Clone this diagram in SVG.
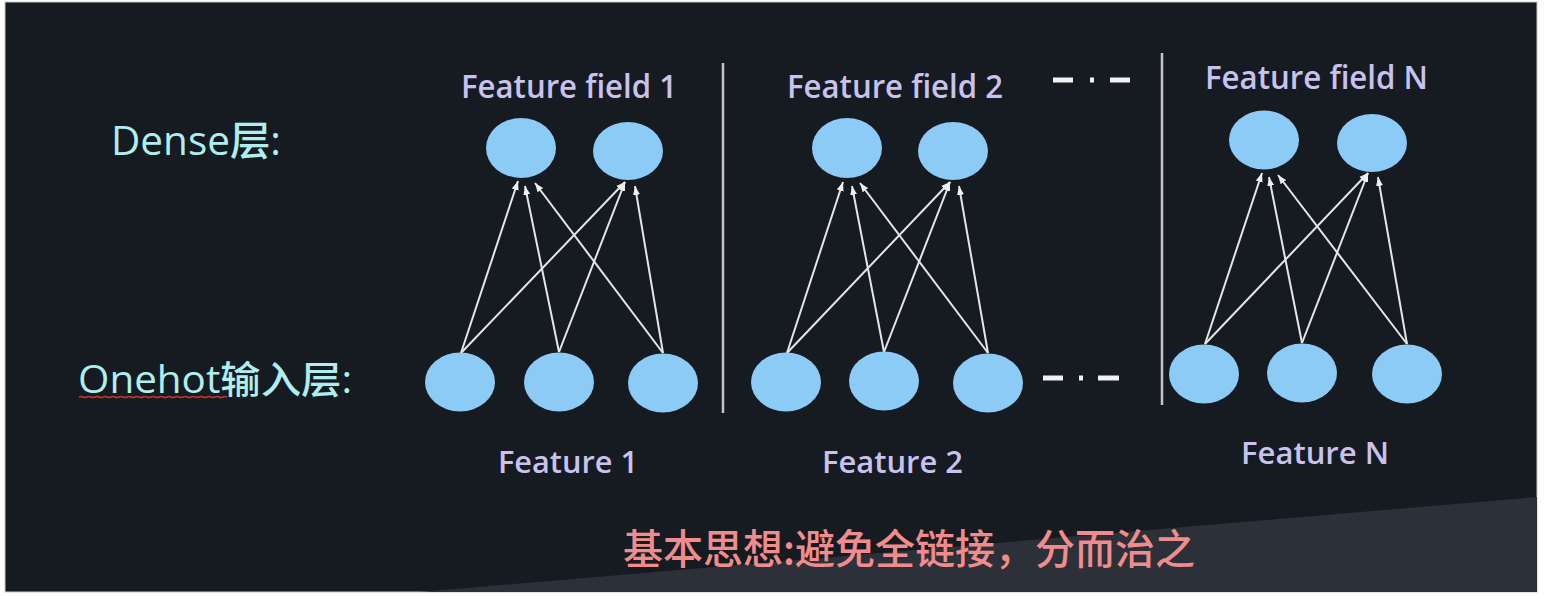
<svg xmlns="http://www.w3.org/2000/svg" width="1544" height="596" viewBox="0 0 1544 596">
<style>
.node{fill:#8ccbf6}
.edge{stroke:#e6e6e6;stroke-width:2;fill:none;marker-end:url(#ah)}
.sep{stroke:#c4c4c4;stroke-width:2.5}
.dash{stroke:#f2f2f2;stroke-width:5}
.ff{font-family:'Open Sans','Liberation Sans',sans-serif;fill:#c8c2ee;font-size:33px;font-weight:600}
.fl{font-family:'Open Sans','Liberation Sans',sans-serif;fill:#c8c2ee;font-size:31px;font-weight:600}
.lay{font-family:'Open Sans','Noto Sans CJK SC',sans-serif;fill:#aeeeee;font-weight:500}
.cn{font-family:'Noto Sans CJK SC',sans-serif;fill:#f08c8c;font-size:41px;font-weight:500}
</style>
<defs>
<marker id="ah" markerUnits="userSpaceOnUse" markerWidth="10" markerHeight="8" refX="9" refY="4" orient="auto">
<path d="M0,0.5 L9,4 L0,7.5 z" fill="#f0f0f0"/>
</marker>
</defs>
<rect x="0" y="0" width="1544" height="596" fill="#ffffff"/>
<rect x="5" y="2" width="1532" height="590" fill="#161a21" stroke="#c8c8c8" stroke-width="1"/>
<polygon points="420,592 1537,497 1537,592" fill="#2b3039"/>

<g id="labels">
<text class="lay" x="111" y="155" font-size="40" textLength="170" lengthAdjust="spacingAndGlyphs">Dense层:</text>
<text class="lay" x="78" y="393" font-size="38" textLength="274" lengthAdjust="spacingAndGlyphs">Onehot输入层:</text>
<path d="M79,397 q2,-1 4,0 t4,0 t4,0 t4,0 t4,0 t4,0 t4,0 t4,0 t4,0 t4,0 t4,0 t4,0 t4,0 t4,0 t4,0 t4,0 t4,0 t4,0 t4,0 t4,0 t4,0 t4,0 t4,0 t4,0 t4,0 t4,0 t4,0 t4,0 t4,0 t4,0 t4,0 t4,0 t4,0 t4,0 t4,0 t4,0 t4,0" fill="none" stroke="#c0392b" stroke-width="1.5"/>
<text class="ff" x="461" y="98" textLength="216" lengthAdjust="spacingAndGlyphs">Feature field 1</text>
<text class="ff" x="787" y="98" textLength="216" lengthAdjust="spacingAndGlyphs">Feature field 2</text>
<text class="ff" x="1205" y="89" textLength="223" lengthAdjust="spacingAndGlyphs">Feature field N</text>
<text class="fl" x="498" y="473" textLength="140" lengthAdjust="spacingAndGlyphs">Feature 1</text>
<text class="fl" x="822" y="473" textLength="141" lengthAdjust="spacingAndGlyphs">Feature 2</text>
<text class="fl" x="1241" y="464" textLength="148" lengthAdjust="spacingAndGlyphs">Feature N</text>
<text class="cn" x="623" y="564" textLength="572" lengthAdjust="spacingAndGlyphs">基本思想:避免全链接，分而治之</text>
</g>

<g id="separators">
<line class="sep" x1="723" y1="63" x2="723" y2="413"/>
<line class="sep" x1="1162" y1="53" x2="1162" y2="405"/>
<line class="dash" x1="1053" y1="80" x2="1073" y2="80"/>
<line class="dash" x1="1090" y1="80" x2="1094" y2="80"/>
<line class="dash" x1="1110" y1="80" x2="1130" y2="80"/>
<line class="dash" x1="1043" y1="378" x2="1063" y2="378"/>
<line class="dash" x1="1079" y1="378" x2="1083" y2="378"/>
<line class="dash" x1="1098" y1="378" x2="1119" y2="378"/>
</g>

<g id="connectors">
<line class="edge" x1="461" y1="353" x2="518" y2="181"/>
<line class="edge" x1="461" y1="353" x2="625" y2="182"/>
<line class="edge" x1="559" y1="352" x2="525" y2="186"/>
<line class="edge" x1="559" y1="352" x2="625" y2="182"/>
<line class="edge" x1="663" y1="353" x2="535" y2="183"/>
<line class="edge" x1="663" y1="353" x2="635" y2="186"/>

<line class="edge" x1="787" y1="353" x2="843" y2="182"/>
<line class="edge" x1="787" y1="353" x2="950" y2="182"/>
<line class="edge" x1="884" y1="352" x2="852" y2="186"/>
<line class="edge" x1="884" y1="352" x2="950" y2="182"/>
<line class="edge" x1="988" y1="353" x2="860" y2="183"/>
<line class="edge" x1="988" y1="353" x2="959" y2="186"/>

<line class="edge" x1="1205" y1="344" x2="1262" y2="173"/>
<line class="edge" x1="1205" y1="344" x2="1368" y2="173"/>
<line class="edge" x1="1302" y1="343" x2="1269" y2="177"/>
<line class="edge" x1="1302" y1="343" x2="1368" y2="173"/>
<line class="edge" x1="1407" y1="344" x2="1278" y2="175"/>
<line class="edge" x1="1407" y1="344" x2="1378" y2="177"/>
</g>

<g id="f1-d1"><ellipse class="node" cx="521" cy="148" rx="35" ry="30"/></g>
<g id="f1-d2"><ellipse class="node" cx="628" cy="151" rx="35" ry="29"/></g>
<g id="f1-i1"><ellipse class="node" cx="460" cy="382" rx="35" ry="29.5"/></g>
<g id="f1-i2"><ellipse class="node" cx="559" cy="382" rx="35" ry="29.5"/></g>
<g id="f1-i3"><ellipse class="node" cx="663" cy="383" rx="35" ry="29.5"/></g>

<g id="f2-d1"><ellipse class="node" cx="847" cy="148" rx="35" ry="30"/></g>
<g id="f2-d2"><ellipse class="node" cx="953" cy="151" rx="35" ry="29"/></g>
<g id="f2-i1"><ellipse class="node" cx="786" cy="382" rx="35" ry="29.5"/></g>
<g id="f2-i2"><ellipse class="node" cx="884" cy="381" rx="35" ry="29.5"/></g>
<g id="f2-i3"><ellipse class="node" cx="988" cy="383" rx="35" ry="29.5"/></g>

<g id="fN-d1"><ellipse class="node" cx="1264" cy="140" rx="35" ry="29.5"/></g>
<g id="fN-d2"><ellipse class="node" cx="1372" cy="143" rx="35" ry="29"/></g>
<g id="fN-i1"><ellipse class="node" cx="1204" cy="374" rx="35" ry="29.5"/></g>
<g id="fN-i2"><ellipse class="node" cx="1302" cy="373" rx="35" ry="29.5"/></g>
<g id="fN-i3"><ellipse class="node" cx="1407" cy="374" rx="35" ry="29.5"/></g>
</svg>
